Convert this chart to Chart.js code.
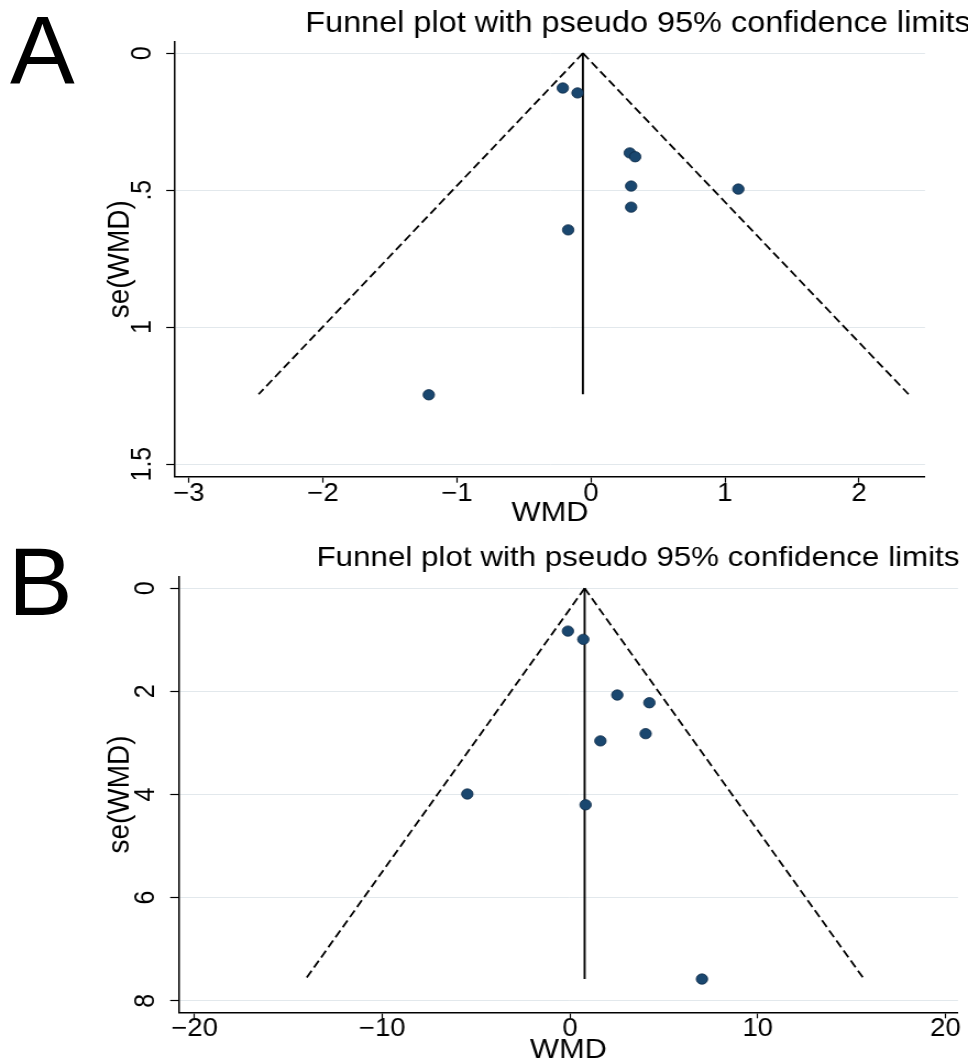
<!DOCTYPE html>
<html>
<head>
<meta charset="utf-8">
<title>Funnel plots</title>
<script src="https://cdn.jsdelivr.net/npm/chart.js@4/dist/chart.umd.min.js"></script>
<style>
  body { margin: 0; background: #fff; }
  #page { position: relative; width: 968px; height: 1064px; overflow: hidden; font-family: "Liberation Sans", Arial, sans-serif; }
  .panel { position: absolute; left: 0; width: 968px; height: 532px; }
  /* the original graphs are a little wider than tall, stretch the canvas the same way */
  .stretch { position: absolute; left: 0; top: 0; width: 880px; height: 532px; transform: scaleX(1.1); transform-origin: 0 0; }
  .letter { position: absolute; font-size: 97px; line-height: 97px; color: #000; }
</style>
</head>
<body>
<div id="page">
  <div class="panel" style="top:0">
    <div class="stretch"><canvas id="funnel-a" width="880" height="532"></canvas></div>
  </div>
  <div class="panel" style="top:532px">
    <div class="stretch"><canvas id="funnel-b" width="880" height="532"></canvas></div>
  </div>
  <div class="letter" style="left:10px;top:1px">A</div>
  <div class="letter" style="left:8px;top:533px">B</div>
</div>
<script>
// panel A
const wmdA = [-0.21, -0.10, 0.29, 0.33, 0.30, 1.10, 0.30, -0.17, -1.21];
const seA = [0.127, 0.145, 0.364, 0.378, 0.485, 0.496, 0.562, 0.645, 1.247];
const pooledA = -0.06;
const seMaxA = 1.245;
const lowerEndA = -2.48;
const upperEndA = 2.37;
const xTicksA = [-3, -2, -1, 0, 1, 2];
const xTickLabelsA = ['\u22123', '\u22122', '\u22121', '0', '1', '2'];
const yTicksA = [0, 0.5, 1, 1.5];
const yTickLabelsA = ['0', '.5', '1', '1.5'];

// panel B
const wmdB = [-0.11, 0.71, 2.52, 4.23, 4.03, 1.62, -5.47, 0.83, 7.03];
const seB = [0.83, 0.99, 2.07, 2.22, 2.82, 2.96, 3.99, 4.20, 7.58];
const pooledB = 0.78;
const seMaxB = 7.58;
const lowerEndB = -14.08;
const upperEndB = 15.66;
const xTicksB = [-20, -10, 0, 10, 20];
const xTickLabelsB = ['\u221220', '\u221210', '0', '10', '20'];
const yTicksB = [0, 2, 4, 6, 8];
const yTickLabelsB = ['0', '2', '4', '6', '8'];

const titleText = 'Funnel plot with pseudo 95% confidence limits';
const FONT = "'Liberation Sans', Arial, sans-serif";

// draws the graph title (Stata puts it over the whole graph, not the plot)
const panelTitle = {
  id: 'panelTitle',
  afterDraw(chart, args, opts) {
    const ctx = chart.ctx;
    ctx.save();
    ctx.font = opts.size + 'px ' + FONT;
    ctx.fillStyle = '#000';
    ctx.textAlign = 'center';
    ctx.textBaseline = 'alphabetic';
    ctx.fillText(opts.text, opts.x, opts.y);
    ctx.restore();
  }
};

function funnel(id, p) {
  const points = p.wmd.map((v, i) => ({ x: v, y: p.se[i] }));
  return new Chart(document.getElementById(id), {
    type: 'scatter',
    data: {
      datasets: [
        {
          label: 'studies',
          data: points,
          pointRadius: 5.2,
          pointHoverRadius: 5.2,
          backgroundColor: '#1a476f',
          borderColor: '#0e2b47',
          borderWidth: 0.8
        },
        {
          label: 'pooled',
          data: [{ x: p.pooled, y: 0 }, { x: p.pooled, y: p.seMax }],
          showLine: true,
          pointRadius: 0,
          borderColor: '#000',
          borderWidth: 1.9
        },
        {
          label: 'lower limit',
          data: [{ x: p.pooled, y: 0 }, { x: p.lowerEnd, y: p.seMax }],
          showLine: true,
          pointRadius: 0,
          borderColor: '#000',
          borderWidth: 1.8,
          borderDash: [8, 4]
        },
        {
          label: 'upper limit',
          data: [{ x: p.pooled, y: 0 }, { x: p.upperEnd, y: p.seMax }],
          showLine: true,
          pointRadius: 0,
          borderColor: '#000',
          borderWidth: 1.8,
          borderDash: [8, 4]
        }
      ]
    },
    options: {
      responsive: false,
      animation: false,
      devicePixelRatio: 1,
      layout: { autoPadding: false, padding: { top: p.top, right: p.right, bottom: 0, left: 0 } },
      plugins: {
        legend: { display: false },
        tooltip: { enabled: false },
        panelTitle: { text: titleText, x: 580, y: p.titleY, size: p.titleSize }
      },
      scales: {
        x: {
          type: 'linear',
          min: p.xMin,
          max: p.xMax,
          afterBuildTicks: s => { s.ticks = p.xTicks.map(v => ({ value: v })); },
          afterFit: s => { s.height = p.xHeight; s.paddingLeft = 0; s.paddingRight = 0; },
          border: { color: '#000', width: 1.5 },
          grid: { drawOnChartArea: false, drawTicks: true, tickLength: 6, tickColor: '#000', tickWidth: 1.2 },
          ticks: {
            color: '#000',
            font: { family: FONT, size: 25, lineHeight: 1 },
            padding: p.xTickPad,
            maxRotation: 0,
            callback: (v, i) => p.xTickLabels[i]
          },
          title: {
            display: true,
            text: 'WMD',
            color: '#000',
            font: { family: FONT, size: 28, lineHeight: 1 },
            padding: { top: 0, bottom: p.xTitlePad }
          }
        },
        y: {
          type: 'linear',
          reverse: true,
          min: p.yMin,
          max: p.yMax,
          afterBuildTicks: s => { s.ticks = p.yTicks.map(v => ({ value: v })); },
          afterFit: s => { s.width = p.yWidth; s.paddingTop = 0; s.paddingBottom = 0; },
          border: { color: '#000', width: 1.5 },
          grid: { color: '#e2e8ec', lineWidth: 1, tickLength: 8, tickColor: '#000', tickWidth: 1.2 },
          ticks: {
            color: '#000',
            font: { family: FONT, size: 25 },
            padding: p.yTickPad,
            minRotation: 90,
            maxRotation: 90,
            crossAlign: 'center',
            callback: (v, i) => p.yTickLabels[i]
          },
          title: {
            display: true,
            text: 'se(WMD)',
            color: '#000',
            font: { family: FONT, size: 28 },
            padding: { top: 92.8, bottom: 0 }
          }
        }
      }
    },
    plugins: [panelTitle]
  });
}

funnel('funnel-a', {
  wmd: wmdA, se: seA, pooled: pooledA, seMax: seMaxA, lowerEnd: lowerEndA, upperEnd: upperEndA,
  xTicks: xTicksA, xTickLabels: xTickLabelsA, yTicks: yTicksA, yTickLabels: yTickLabelsA,
  xMin: -3.104, xMax: 2.493, yMin: -0.042, yMax: 1.546,
  top: 41.7, right: 39.1, yWidth: 159.1, xHeight: 55.3,
  xTickPad: -1.2, yTickPad: 3.7, xTitlePad: 4.7,
  titleY: 32, titleSize: 29.5
});

funnel('funnel-b', {
  wmd: wmdB, se: seB, pooled: pooledB, seMax: seMaxB, lowerEnd: lowerEndB, upperEnd: upperEndB,
  xTicks: xTicksB, xTickLabels: xTickLabelsB, yTicks: yTicksB, yTickLabels: yTickLabelsB,
  xMin: -20.83, xMax: 20.67, yMin: -0.225, yMax: 8.225,
  top: 44.7, right: 9.1, yWidth: 162.7, xHeight: 51.7,
  xTickPad: -1.6, yTickPad: 14.2, xTitlePad: 0,
  titleY: 34, titleSize: 28.5
});
</script>
</body>
</html>
